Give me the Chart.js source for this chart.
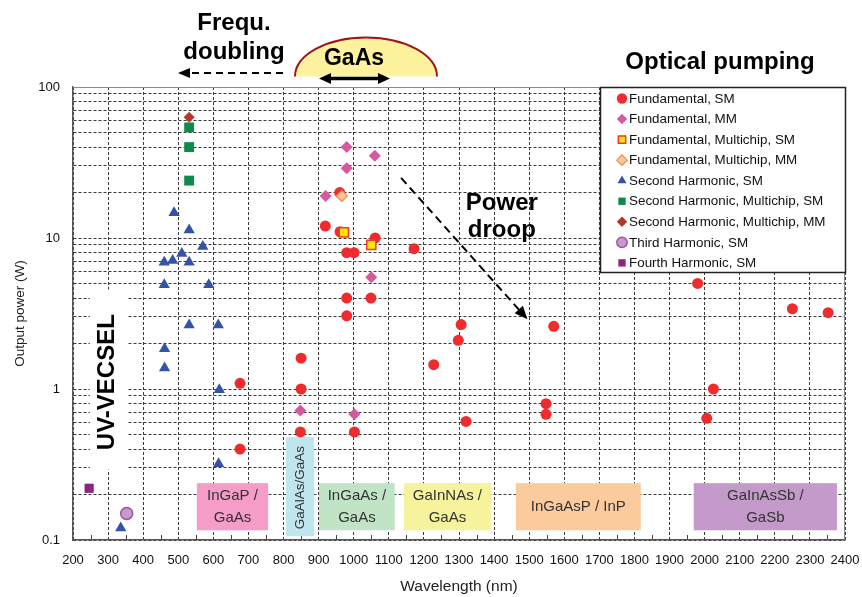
<!DOCTYPE html>
<html>
<head>
<meta charset="utf-8">
<script src="https://cdn.jsdelivr.net/npm/chart.js@4.4.1/dist/chart.umd.min.js"></script>
<style>
html,body{margin:0;padding:0;background:#fff;}
canvas{display:block;}
</style>
</head>
<body>
<canvas id="c" width="862" height="597"></canvas>
<script>
// ---------------- data ----------------
const seriesNames = [
  'Fundamental, SM',
  'Fundamental, MM',
  'Fundamental, Multichip, SM',
  'Fundamental, Multichip, MM',
  'Second Harmonic, SM',
  'Second Harmonic, Multichip, SM',
  'Second Harmonic, Multichip, MM',
  'Third Harmonic, SM',
  'Fourth Harmonic, SM'
];
// [wavelength nm, output power W]
const fundamentalSM = [[676,1.09],[676,0.40],[850,1.6],[850,1.0],[848,0.52],[919,12],[960,20],[961,11],
  [980,8],[1001,8],[980,4],[980,3.05],[1049,4],[1061,10],[1002,0.52],[1172,8.5],[1228,1.45],[1306,2.67],
  [1298,2.1],[1320,0.61],[1548,0.80],[1548,0.68],[1570,2.6],[1980,5],[2025,1.0],[2006,0.64],[2250,3.4],[2352,3.2]];
const fundamentalMM = [[980,40],[1060,35],[980,29],[920,19],[1050,5.5],[848,0.72],[1002,0.68]];
const fundamentalMultichipSM = [[972,10.9],[1050,9.0]];
const fundamentalMultichipMM = [[966,19]];
const secondHarmonicSM = [[488,14.7],[531,11.3],[570,8.8],[510,7.9],[484,7.1],[460,6.9],[531,6.9],[460,4.9],
  [587,4.9],[531,2.65],[614,2.65],[461,1.85],[461,1.38],[617,0.99],[615,0.32],[336,0.12]];
const secondHarmonicMultichipSM = [[531,54],[531,40],[531,24]];
const secondHarmonicMultichipMM = [[531,63]];
const thirdHarmonicSM = [[353,0.15]];
const fourthHarmonicSM = [[246,0.22]];

const yTickLabels = ['0.1','1','10','100'];

// material systems: labels and wavelength span (nm)
const materialLabels = [['InGaP /','GaAs'],['GaAlAs/GaAs'],['InGaAs /','GaAs'],['GaInNAs /','GaAs'],['InGaAsP / InP'],['GaInAsSb /','GaSb']];
const materialSpans = [[553,756],[807,887],[901,1117],[1143,1391],[1462,1818],[1969,2377]];

// ---------------- styles ----------------
const FONT = "'Liberation Sans', Arial, Helvetica, sans-serif";
Chart.defaults.font.family = FONT;

const seriesStyles = [
  {style:'circle',   r:5.5, bg:'#EF2B2D', bc:'#EF2B2D', bw:0},
  {style:'rectRot',  r:6,   bg:'#D8589F', bc:'#D8589F', bw:0},
  {style:'rect',     r:6.5, bg:'#FFE600', bc:'#EE3A26', bw:1.5},
  {style:'rectRot',  r:5.5, bg:'#F9C89A', bc:'#EC8A4E', bw:1.2},
  {style:'triangle', r:6.5, bg:'#3452A6', bc:'#3452A6', bw:0},
  {style:'rect',     r:7,   bg:'#0E8A4B', bc:'#0E8A4B', bw:0},
  {style:'rectRot',  r:5.5, bg:'#B8352A', bc:'#B8352A', bw:0},
  {style:'circle',   r:6,   bg:'#C59BCB', bc:'#A24FA3', bw:1.5},
  {style:'rect',     r:6.5, bg:'#8F2381', bc:'#8F2381', bw:0}
];
const seriesData = [fundamentalSM, fundamentalMM, fundamentalMultichipSM, fundamentalMultichipMM,
  secondHarmonicSM, secondHarmonicMultichipSM, secondHarmonicMultichipMM, thirdHarmonicSM, fourthHarmonicSM];
const materialColors = ['#F59DC6','#BFE5EF','#C1E3C6','#F7F29C','#FCCB9D','#C49ACB'];

function arrowHead(ctx, x, y, angle, len, width) {
  ctx.save();
  ctx.translate(x, y);
  ctx.rotate(angle);
  ctx.beginPath();
  ctx.moveTo(0, 0);
  ctx.lineTo(-len, -width / 2);
  ctx.lineTo(-len, width / 2);
  ctx.closePath();
  ctx.fill();
  ctx.restore();
}

function marker(ctx, st, x, y, r) {
  ctx.save();
  ctx.fillStyle = st.bg;
  ctx.strokeStyle = st.bc;
  ctx.lineWidth = st.bw;
  if (Chart.helpers && Chart.helpers.drawPoint) {
    Chart.helpers.drawPoint(ctx, {pointStyle: st.style, radius: r, rotation: 0, borderWidth: st.bw}, x, y);
  } else {
    ctx.beginPath(); ctx.arc(x, y, r, 0, Math.PI * 2); ctx.fill();
  }
  ctx.restore();
}

const decor = {
  id: 'decor',
  beforeDatasetsDraw(chart) {
    const {ctx, chartArea: a, scales: {x, y}} = chart;
    ctx.save();
    ctx.setLineDash([]);
    // frame top/right
    ctx.strokeStyle = '#8a8a8a';
    ctx.lineWidth = 1;
    ctx.beginPath();
    ctx.moveTo(a.left, a.top + 0.5);
    ctx.lineTo(a.right - 0.5, a.top + 0.5);
    ctx.lineTo(a.right - 0.5, a.bottom);
    ctx.stroke();
    // minor x ticks (inward)
    ctx.strokeStyle = '#444';
    for (let v = 250; v < 2400; v += 100) {
      const px = Math.round(x.getPixelForValue(v)) + 0.5;
      ctx.beginPath(); ctx.moveTo(px, a.bottom); ctx.lineTo(px, a.bottom - 5); ctx.stroke();
    }
    // UV-VECSEL white box + label
    const ux1 = x.getPixelForValue(248), ux2 = x.getPixelForValue(354);
    const uy1 = y.getPixelForValue(4.56), uy2 = y.getPixelForValue(0.293);
    ctx.fillStyle = '#fff';
    ctx.fillRect(ux1, uy1, ux2 - ux1, uy2 - uy1);
    ctx.save();
    ctx.translate(x.getPixelForValue(297), y.getPixelForValue(1.11));
    ctx.rotate(-Math.PI / 2);
    ctx.fillStyle = '#000';
    ctx.font = 'bold 24px ' + FONT;
    ctx.textAlign = 'center';
    ctx.textBaseline = 'middle';
    ctx.fillText('UV-VECSEL', 0, 0);
    ctx.restore();
    // material boxes
    materialSpans.forEach((sp, i) => {
      const tall = materialLabels[i].length === 1 && materialLabels[i][0].indexOf(' ') < 0;
      const x1 = x.getPixelForValue(sp[0]), x2 = x.getPixelForValue(sp[1]);
      const y1 = y.getPixelForValue(tall ? 0.48 : 0.238), y2 = y.getPixelForValue(tall ? 0.106 : 0.116);
      ctx.fillStyle = materialColors[i];
      ctx.fillRect(x1, y1, x2 - x1, y2 - y1);
      ctx.fillStyle = '#333';
      ctx.textAlign = 'center';
      ctx.textBaseline = 'middle';
      const cx = (x1 + x2) / 2;
      if (tall) {
        ctx.save();
        ctx.translate(cx, (y1 + y2) / 2 + 1);
        ctx.rotate(-Math.PI / 2);
        ctx.font = '13.5px ' + FONT;
        ctx.fillText(materialLabels[i][0], 0, 0);
        ctx.restore();
      } else {
        ctx.font = '15px ' + FONT;
        const lines = materialLabels[i];
        const cy = (y1 + y2) / 2;
        if (lines.length === 1) {
          ctx.fillText(lines[0], cx, cy);
        } else {
          ctx.fillText(lines[0], cx, cy - 11);
          ctx.fillText(lines[1], cx, cy + 11);
        }
      }
    });
    ctx.restore();
  },
  afterDatasetsDraw(chart) {
    const {ctx, chartArea: a, scales: {x, y}} = chart;
    ctx.save();
    ctx.setLineDash([]);
    // legend box
    const lx = a.right - 245, ly = a.top, lw = 246, lh = 186;
    ctx.fillStyle = '#fff';
    ctx.fillRect(lx, ly, lw, lh);
    ctx.strokeStyle = '#222';
    ctx.lineWidth = 1.5;
    ctx.strokeRect(lx + 0.5, ly + 0.5, lw - 1, lh - 1);
    ctx.font = '13.4px ' + FONT;
    ctx.textAlign = 'left';
    ctx.textBaseline = 'middle';
    chart.data.datasets.forEach((ds, i) => {
      const cy = ly + 11.5 + i * 20.55;
      const st = seriesStyles[i];
      marker(ctx, st, lx + 22, cy, Math.min(st.r, 5.2));
      ctx.fillStyle = '#111';
      ctx.fillText(ds.label, lx + 29, cy + 0.5);
    });
    // Power droop
    ctx.fillStyle = '#000';
    ctx.font = 'bold 24px ' + FONT;
    ctx.textAlign = 'center';
    ctx.textBaseline = 'middle';
    ctx.fillText('Power', x.getPixelForValue(1422), y.getPixelForValue(17));
    ctx.fillText('droop', x.getPixelForValue(1422), y.getPixelForValue(11.2));
    const ax1 = x.getPixelForValue(1135), ay1 = y.getPixelForValue(25);
    const ax2 = x.getPixelForValue(1495), ay2 = y.getPixelForValue(2.9);
    const ang = Math.atan2(ay2 - ay1, ax2 - ax1);
    ctx.strokeStyle = '#000';
    ctx.lineWidth = 2;
    ctx.setLineDash([8, 5]);
    ctx.beginPath();
    ctx.moveTo(ax1, ay1);
    ctx.lineTo(ax2 - Math.cos(ang) * 10, ay2 - Math.sin(ang) * 10);
    ctx.stroke();
    ctx.setLineDash([]);
    arrowHead(ctx, ax2, ay2, ang, 13, 11);
    ctx.restore();
  },
  afterDraw(chart) {
    const {ctx} = chart;
    ctx.save();
    ctx.setLineDash([]);
    ctx.fillStyle = '#000';
    ctx.textAlign = 'center';
    ctx.textBaseline = 'alphabetic';
    ctx.font = 'bold 24px ' + FONT;
    ctx.fillText('Frequ.', 234, 30);
    ctx.fillText('doubling', 234, 59);
    // dashed left arrow
    ctx.strokeStyle = '#000';
    ctx.lineWidth = 2;
    ctx.setLineDash([7, 5]);
    ctx.beginPath(); ctx.moveTo(283, 73); ctx.lineTo(188, 73); ctx.stroke();
    ctx.setLineDash([]);
    arrowHead(ctx, 178, 73, Math.PI, 12, 10);
    // GaAs half ellipse
    ctx.beginPath();
    ctx.ellipse(366, 76.5, 71, 39, 0, Math.PI, 2 * Math.PI);
    ctx.closePath();
    ctx.fillStyle = '#FFF29E';
    ctx.fill();
    ctx.beginPath();
    ctx.ellipse(366, 76.5, 71, 39, 0, Math.PI, 2 * Math.PI);
    ctx.strokeStyle = '#A0141E';
    ctx.lineWidth = 2;
    ctx.stroke();
    ctx.fillStyle = '#000';
    ctx.font = 'bold 23px ' + FONT;
    ctx.fillText('GaAs', 354, 65);
    // double arrow
    ctx.strokeStyle = '#000';
    ctx.lineWidth = 3.5;
    ctx.beginPath(); ctx.moveTo(328, 78.5); ctx.lineTo(381, 78.5); ctx.stroke();
    arrowHead(ctx, 319, 78.5, Math.PI, 12, 11);
    arrowHead(ctx, 390, 78.5, 0, 12, 11);
    // Optical pumping
    ctx.font = 'bold 24px ' + FONT;
    ctx.fillText('Optical pumping', 720, 69);
    ctx.restore();
  }
};

new Chart(document.getElementById('c'), {
  type: 'scatter',
  data: {
    datasets: seriesData.map((arr, i) => ({
      label: seriesNames[i],
      data: arr.map(p => ({x: p[0], y: p[1]})),
      pointStyle: seriesStyles[i].style,
      pointRadius: seriesStyles[i].r,
      pointHoverRadius: seriesStyles[i].r,
      backgroundColor: seriesStyles[i].bg,
      borderColor: seriesStyles[i].bc,
      borderWidth: seriesStyles[i].bw,
      order: 20 - i
    }))
  },
  options: {
    responsive: false,
    animation: false,
    devicePixelRatio: 1,
    layout: {padding: {top: 87, right: 17, left: 0, bottom: 0}},
    plugins: {legend: {display: false}, tooltip: {enabled: false}},
    scales: {
      x: {
        type: 'linear', min: 200, max: 2400,
        afterFit(s) { s.height = 57; s.paddingLeft = 0; s.paddingRight = 0; },
        ticks: {stepSize: 100, autoSkip: false, maxRotation: 0, padding: 13, color: '#111', font: {size: 13},
          callback(v) { return String(v); }},
        grid: {color: '#3a3a3a', lineWidth: 1, drawTicks: false},
        border: {display: true, color: '#555', width: 1.5, dash: [3, 2]},
        title: {display: true, text: 'Wavelength (nm)', color: '#222', font: {size: 15.5}, padding: {top: 0, bottom: 1}}
      },
      y: {
        type: 'logarithmic', min: 0.1, max: 100,
        afterFit(s) { s.width = 73; s.paddingTop = 0; s.paddingBottom = 0; },
        afterBuildTicks(s) {
          s.ticks = s.ticks.filter(t => {
            const m = t.value / Math.pow(10, Math.floor(Math.log10(t.value) + 1e-9));
            return Math.abs(m - Math.round(m)) < 1e-6;
          });
        },
        ticks: {
          autoSkip: false, padding: 13, color: '#111', font: {size: 13},
          callback(v) {
            const l = Math.log10(v);
            if (Math.abs(l - Math.round(l)) < 1e-6) return yTickLabels[Math.round(l) + 1];
            return '';
          }
        },
        grid: {color: '#3a3a3a', lineWidth: 1, drawTicks: false},
        border: {display: true, color: '#555', width: 1.5, dash: [3, 2]},
        title: {display: true, text: 'Output power (W)', color: '#222', font: {size: 13.5}, padding: {top: 12, bottom: 0}}
      }
    }
  },
  plugins: [decor]
});
</script>
</body>
</html>
